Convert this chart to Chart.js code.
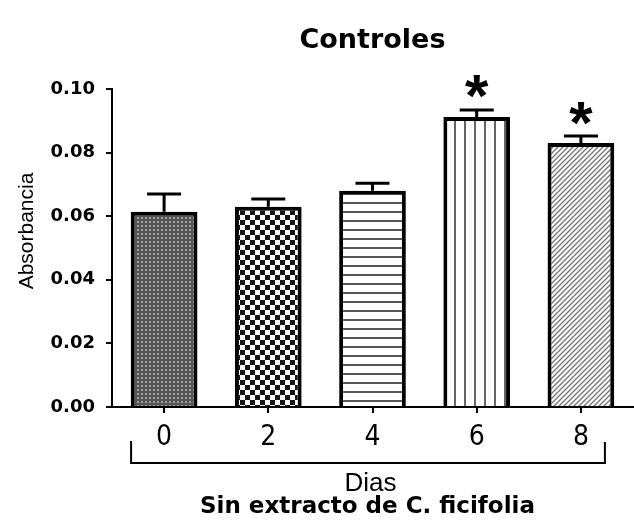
<!DOCTYPE html>
<html>
<head>
<meta charset="utf-8">
<script src="https://cdn.jsdelivr.net/npm/chart.js@4/dist/chart.umd.min.js"></script>
<style>
  html, body { margin: 0; padding: 0; background: #fff; }
  #wrap { width: 634px; height: 521px; }
</style>
</head>
<body>
<div id="wrap"><canvas id="c" width="634" height="521"></canvas></div>
<script>
// Absorbance of control cultures by day (no C. ficifolia extract)
const days = ['0', '2', '4', '6', '8'];
const absorbance = [0.0614, 0.0630, 0.0680, 0.0912, 0.0830];
const errorUp = [0.0056, 0.0024, 0.0024, 0.0022, 0.0022];
const marks = ['', '', '', '*', '*'];
const yTicks = [0, 0.02, 0.04, 0.06, 0.08, 0.10];
const titleText = 'Controles';
const yTitle = 'Absorbancia';
const xTitle = 'Dias';
const xSubtitle = 'Sin extracto de C. ficifolia';

const canvas = document.getElementById('c');
const ctx = canvas.getContext('2d');

// small tiles used as bar fills
function tile(w, h, draw) {
  const t = document.createElement('canvas');
  t.width = w; t.height = h;
  draw(t.getContext('2d'), w, h);
  return ctx.createPattern(t, 'repeat');
}
const fills = [
  tile(4, 4, (g) => { g.fillStyle = '#555'; g.fillRect(0, 0, 4, 4); g.fillStyle = '#a0a0a0'; g.fillRect(1, 1, 2, 2); }),
  tile(10, 10, (g) => { g.fillStyle = '#fff'; g.fillRect(0, 0, 10, 10); g.fillStyle = '#151515'; g.fillRect(0, 0, 5, 5); g.fillRect(5, 5, 5, 5); }),
  tile(4, 9, (g) => { g.fillStyle = '#fff'; g.fillRect(0, 0, 4, 9); g.fillStyle = '#555'; g.fillRect(0, 4, 4, 2); }),
  tile(10, 4, (g) => { g.fillStyle = '#fff'; g.fillRect(0, 0, 10, 4); g.fillStyle = '#666'; g.fillRect(4, 0, 2, 4); }),
  tile(5, 5, (g) => {
    g.fillStyle = '#fff'; g.fillRect(0, 0, 5, 5);
    g.strokeStyle = '#777'; g.lineWidth = 1.4;
    g.beginPath();
    g.moveTo(-1, 6); g.lineTo(6, -1);
    g.moveTo(-1, 1); g.lineTo(1, -1);
    g.moveTo(4, 6); g.lineTo(6, 4);
    g.stroke();
  })
];

const overlay = {
  id: 'overlay',
  afterDatasetsDraw(chart) {
    const c = chart.ctx;
    const y = chart.scales.y;
    const meta = chart.getDatasetMeta(0);
    c.save();
    // upper error bars
    c.strokeStyle = '#000';
    c.lineWidth = 3;
    meta.data.forEach((bar, i) => {
      const top = y.getPixelForValue(absorbance[i] + errorUp[i]);
      const base = y.getPixelForValue(absorbance[i]);
      c.beginPath();
      c.moveTo(bar.x, base);
      c.lineTo(bar.x, top);
      c.moveTo(bar.x - 17, top);
      c.lineTo(bar.x + 17, top);
      c.stroke();
      if (marks[i]) {
        // significance mark, centred a little above the error cap
        c.fillStyle = '#000';
        c.font = 'bold 60px "Liberation Sans", Arial, sans-serif';
        c.textAlign = 'center';
        c.textBaseline = 'alphabetic';
        const m = c.measureText(marks[i]);
        const cy = top - 23;
        c.fillText(marks[i], bar.x, cy + (m.actualBoundingBoxAscent - m.actualBoundingBoxDescent) / 2);
      }
    });
    c.restore();
  },
  afterDraw(chart) {
    const c = chart.ctx;
    const a = chart.chartArea;
    const x = chart.scales.x;
    const cx = (a.left + a.right) / 2;
    c.save();
    c.fillStyle = '#000';
    c.textAlign = 'center';
    c.textBaseline = 'middle';
    // title
    c.font = 'bold 27px "DejaVu Sans", sans-serif';
    c.fillText(titleText, cx, 41);
    // y-axis title
    c.save();
    c.translate(27, a.top + 142);
    c.rotate(-Math.PI / 2);
    c.font = '21px "Liberation Sans", Arial, sans-serif';
    c.fillText(yTitle, 0, 0);
    c.restore();
    // bracket grouping the days
    const x0 = x.getPixelForValue(0) - 33;
    const x1 = x.getPixelForValue(days.length - 1) + 24;
    const by = a.bottom + 56;
    c.strokeStyle = '#000';
    c.lineWidth = 2;
    c.beginPath();
    c.moveTo(x0, by - 22);
    c.lineTo(x0, by);
    c.lineTo(x1, by);
    c.lineTo(x1, by - 21);
    c.stroke();
    // axis captions
    c.font = '26px "Liberation Sans", Arial, sans-serif';
    c.fillText(xTitle, cx - 2, a.bottom + 77);
    c.font = 'bold 23px "DejaVu Sans", sans-serif';
    c.fillText(xSubtitle, cx - 5, a.bottom + 100);
    c.restore();
  }
};

new Chart(ctx, {
  type: 'bar',
  data: {
    labels: days,
    datasets: [{
      data: absorbance,
      backgroundColor: fills,
      borderColor: '#000',
      borderWidth: 4,
      borderSkipped: 'bottom',
      categoryPercentage: 1,
      barPercentage: 0.64
    }]
  },
  options: {
    responsive: false,
    animation: false,
    devicePixelRatio: 1,
    layout: { padding: { top: 89, right: 1, left: 0, bottom: 0 } },
    plugins: { legend: { display: false }, title: { display: false }, tooltip: { enabled: false } },
    scales: {
      x: {
        afterFit(s) { s.height = 114; },
        grid: { display: true, offset: false, drawOnChartArea: false, drawTicks: true, tickLength: 6, color: '#000', lineWidth: 2 },
        border: { display: true, color: '#000', width: 2 },
        ticks: {
          color: '#000',
          padding: 8,
          font: { family: '"Liberation Sans Narrow", "DejaVu Sans Condensed", "Liberation Sans", sans-serif', size: 28 }
        }
      },
      y: {
        min: 0,
        max: 0.10,
        afterFit(s) { s.width = 112; },
        afterBuildTicks(s) { s.ticks = yTicks.map(v => ({ value: v })); },
        grid: { display: true, drawOnChartArea: false, drawTicks: true, tickLength: 6, color: '#000', lineWidth: 2 },
        border: { display: true, color: '#000', width: 2 },
        ticks: {
          color: '#000',
          padding: 11,
          font: { family: '"DejaVu Sans", sans-serif', size: 18, weight: 'bold' },
          callback: (v) => v.toFixed(2)
        }
      }
    }
  },
  plugins: [overlay]
});
</script>
</body>
</html>
